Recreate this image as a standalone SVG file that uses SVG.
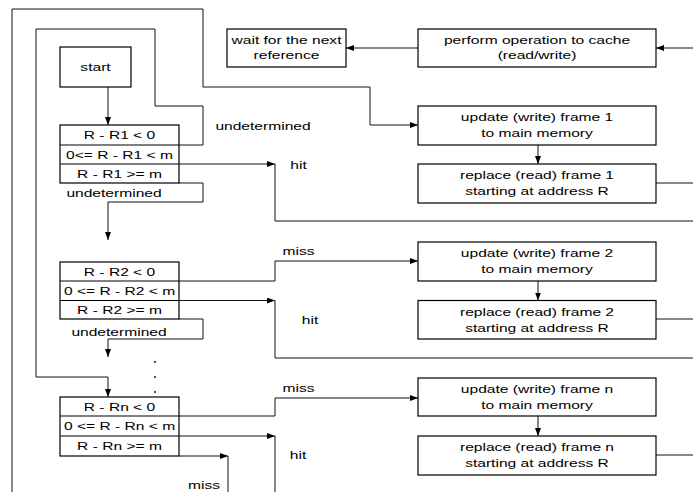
<svg xmlns="http://www.w3.org/2000/svg" width="693" height="492" viewBox="0 0 693 492">
<style>
.box{fill:#fff;stroke:#000;stroke-width:1.2}
.sep{stroke:#000;stroke-width:1.1}
.ln{fill:none;stroke:#111;stroke-width:1}
.t{font-family:"Liberation Sans",Arial,sans-serif;font-size:11.7px;fill:#000;text-anchor:middle}
</style>
<defs>
<marker id="ah" markerUnits="userSpaceOnUse" markerWidth="8" markerHeight="6" refX="8" refY="3" orient="auto">
<path d="M0,0 L8,3 L0,6 z" fill="#000"/>
</marker>
</defs>
<rect width="693" height="492" fill="#fff"/>
<g id="connectors">
<!-- outer loop -->
<path class="ln" d="M12,492 V9 H203 V87 H370 V125 H418" marker-end="url(#ah)"/>
<!-- inner loop from R-R1<0 to Rn -->
<path class="ln" d="M179,145 H203 V106 H155 V29 H36 V377 H108 V397" marker-end="url(#ah)"/>
<!-- start to decision 1 -->
<path class="ln" d="M108,87 V125" marker-end="url(#ah)"/>
<!-- hit 1 -->
<path class="ln" d="M179,164 H275" marker-end="url(#ah)"/>
<path class="ln" d="M275,164 V221 H693"/>
<!-- undetermined 1 -->
<path class="ln" d="M179,183 H203 V202 H108 V240" marker-end="url(#ah)"/>
<!-- miss 2 -->
<path class="ln" d="M179,281 H275 V261 H418" marker-end="url(#ah)"/>
<!-- hit 2 -->
<path class="ln" d="M179,300.5 H275" marker-end="url(#ah)"/>
<path class="ln" d="M275,300.5 V358 H693"/>
<!-- undetermined 2 -->
<path class="ln" d="M179,319 H203 V339 H108 V357" marker-end="url(#ah)"/>
<!-- miss n -->
<path class="ln" d="M179,416 H275 V398 H418" marker-end="url(#ah)"/>
<!-- hit n -->
<path class="ln" d="M179,436 H275" marker-end="url(#ah)"/>
<path class="ln" d="M275,436 V492"/>
<!-- miss bottom -->
<path class="ln" d="M179,456 H228" marker-end="url(#ah)"/>
<path class="ln" d="M228,456 V492"/>
<!-- top row -->
<path class="ln" d="M693,48 H656" marker-end="url(#ah)"/>
<path class="ln" d="M418,48 H346" marker-end="url(#ah)"/>
<!-- update to replace -->
<path class="ln" d="M538,145 V164" marker-end="url(#ah)"/>
<path class="ln" d="M538,281 V300.5" marker-end="url(#ah)"/>
<path class="ln" d="M538,416 V436" marker-end="url(#ah)"/>
<!-- replace outputs -->
<path class="ln" d="M656,183 H693"/>
<path class="ln" d="M656,319 H693"/>
<path class="ln" d="M656,455 H693"/>
<!-- labels -->
<text class="t" transform="translate(263,130) scale(1.333,1)">undetermined</text>
<text class="t" transform="translate(298.5,168.5) scale(1.333,1)">hit</text>
<text class="t" transform="translate(114,197) scale(1.333,1)">undetermined</text>
<text class="t" transform="translate(298.5,255) scale(1.333,1)">miss</text>
<text class="t" transform="translate(310,323.5) scale(1.333,1)">hit</text>
<text class="t" transform="translate(119,336) scale(1.333,1)">undetermined</text>
<text class="t" transform="translate(298.5,391.5) scale(1.333,1)">miss</text>
<text class="t" transform="translate(298,458.5) scale(1.333,1)">hit</text>
<text class="t" transform="translate(204,488.5) scale(1.333,1)">miss</text>
<!-- dots -->
<circle cx="155" cy="362" r="0.9" fill="#000"/>
<circle cx="155" cy="377" r="0.9" fill="#000"/>
<circle cx="155" cy="392" r="0.9" fill="#000"/>
</g>
<g id="start">
<rect class="box" x="60" y="47" width="71" height="40"/>
<text class="t" transform="translate(95.5,71) scale(1.333,1)">start</text>
</g>
<g id="wait">
<rect class="box" x="227" y="29" width="119" height="38"/>
<text class="t" transform="translate(286.5,43.5) scale(1.333,1)">wait for the next</text>
<text class="t" transform="translate(286.5,59.3) scale(1.333,1)">reference</text>
</g>
<g id="perform">
<rect class="box" x="418" y="29" width="238" height="38"/>
<text class="t" transform="translate(537,44) scale(1.333,1)">perform operation to cache</text>
<text class="t" transform="translate(537,59.3) scale(1.333,1)">(read/write)</text>
</g>
<g id="decision1">
<rect class="box" x="60" y="125" width="119" height="58"/>
<line class="sep" x1="60" y1="145" x2="179" y2="145"/>
<line class="sep" x1="60" y1="164" x2="179" y2="164"/>
<text class="t" transform="translate(119.5,139) scale(1.333,1)">R - R1 &lt; 0</text>
<text class="t" transform="translate(119.5,158.5) scale(1.333,1)">0&lt;= R - R1 &lt; m</text>
<text class="t" transform="translate(119.5,177.5) scale(1.333,1)">R - R1 &gt;= m</text>
</g>
<g id="decision2">
<rect class="box" x="60" y="262" width="119" height="57"/>
<line class="sep" x1="60" y1="281" x2="179" y2="281"/>
<line class="sep" x1="60" y1="300.5" x2="179" y2="300.5"/>
<text class="t" transform="translate(119.5,275.5) scale(1.333,1)">R - R2 &lt; 0</text>
<text class="t" transform="translate(119.5,294.5) scale(1.333,1)">0 &lt;= R - R2 &lt; m</text>
<text class="t" transform="translate(119.5,313.5) scale(1.333,1)">R - R2 &gt;= m</text>
</g>
<g id="decisionN">
<rect class="box" x="60" y="397" width="119" height="59"/>
<line class="sep" x1="60" y1="416" x2="179" y2="416"/>
<line class="sep" x1="60" y1="436" x2="179" y2="436"/>
<text class="t" transform="translate(119.5,410.5) scale(1.333,1)">R - Rn &lt; 0</text>
<text class="t" transform="translate(119.5,430) scale(1.333,1)">0 &lt;= R - Rn &lt; m</text>
<text class="t" transform="translate(119.5,449.5) scale(1.333,1)">R - Rn &gt;= m</text>
</g>
<g id="update1">
<rect class="box" x="418" y="106" width="238" height="39"/>
<text class="t" transform="translate(537,121) scale(1.333,1)">update (write) frame 1</text>
<text class="t" transform="translate(537,136.5) scale(1.333,1)">to main memory</text>
</g>
<g id="replace1">
<rect class="box" x="418" y="164" width="238" height="39"/>
<text class="t" transform="translate(537,179) scale(1.333,1)">replace (read) frame 1</text>
<text class="t" transform="translate(537,195) scale(1.333,1)">starting at address R</text>
</g>
<g id="update2">
<rect class="box" x="418" y="242" width="238" height="39"/>
<text class="t" transform="translate(537,257) scale(1.333,1)">update (write) frame 2</text>
<text class="t" transform="translate(537,272.5) scale(1.333,1)">to main memory</text>
</g>
<g id="replace2">
<rect class="box" x="418" y="300.5" width="238" height="38.5"/>
<text class="t" transform="translate(537,316) scale(1.333,1)">replace (read) frame 2</text>
<text class="t" transform="translate(537,331.5) scale(1.333,1)">starting at address R</text>
</g>
<g id="updateN">
<rect class="box" x="418" y="378" width="238" height="38"/>
<text class="t" transform="translate(537,393) scale(1.333,1)">update (write) frame n</text>
<text class="t" transform="translate(537,409) scale(1.333,1)">to main memory</text>
</g>
<g id="replaceN">
<rect class="box" x="418" y="436" width="238" height="39"/>
<text class="t" transform="translate(537,451) scale(1.333,1)">replace (read) frame n</text>
<text class="t" transform="translate(537,467) scale(1.333,1)">starting at address R</text>
</g>
</svg>
